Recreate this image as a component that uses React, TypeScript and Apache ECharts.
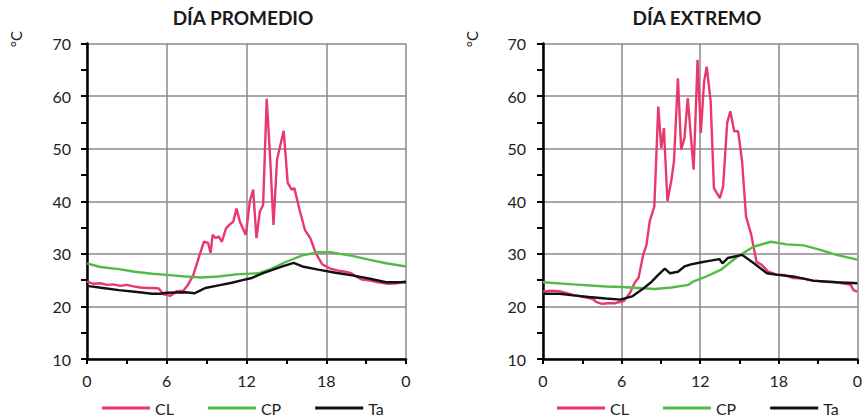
import React, { useEffect, useRef } from "react";
import * as echarts from "echarts";

const titles = ["DÍA PROMEDIO", "DÍA EXTREMO"];
const seriesNames = ["CL", "CP", "Ta"];
const xTicks = [0, 6, 12, 18, 24];

// [hour, °C]
const promCL = [
  [0, 24.7], [0.5, 24.3], [1, 24.4], [1.5, 24.1], [2, 24.2], [2.5, 23.9], [3, 24.1], [3.5, 23.8],
  [4, 23.6], [4.5, 23.5], [5, 23.5], [5.4, 23.4], [5.75, 22.3], [6, 22.2], [6.25, 22.0], [6.5, 22.4],
  [6.75, 22.9], [7.25, 23.0], [7.6, 24.1], [8, 26], [8.5, 30], [8.8, 32.3], [9.1, 32.1], [9.3, 30.2],
  [9.45, 33.6], [9.7, 33], [9.9, 33.3], [10.15, 32.3], [10.45, 34.8], [10.7, 35.5], [11.0, 36.1],
  [11.25, 38.6], [11.5, 36.1], [11.95, 33.6], [12.25, 40], [12.5, 42.2], [12.75, 33], [13.0, 38],
  [13.25, 39.3], [13.52, 59.5], [13.77, 48.6], [14.03, 35.5], [14.3, 48], [14.8, 53.4], [15.1, 43.5],
  [15.4, 42.2], [15.6, 42.5], [16.0, 38.3], [16.4, 34.5], [16.8, 33], [17.2, 30.2], [17.7, 28],
  [18.3, 27.2], [18.9, 26.8], [19.4, 26.6], [19.9, 26.3], [20.3, 25.6], [20.7, 25.1], [21.3, 24.9],
  [21.9, 24.6], [22.7, 24.3], [23.3, 24.4], [24, 24.8],
];
const promCP = [
  [0, 28.2], [1, 27.5], [2.4, 27.1], [3.6, 26.6], [4.9, 26.2], [6, 26], [7.4, 25.7], [8.6, 25.5],
  [9.9, 25.7], [11.2, 26.1], [12.9, 26.3], [13.9, 27.2], [14.9, 28.4], [16.2, 29.7], [17.4, 30.3],
  [18.3, 30.3], [19.95, 29.6], [21.2, 28.9], [22.5, 28.2], [24, 27.6],
];
const promTa = [
  [0, 23.9], [1.2, 23.5], [2.4, 23.1], [3.6, 22.8], [4.9, 22.4], [5.5, 22.4], [6, 22.6], [7.4, 22.7],
  [8.1, 22.5], [8.5, 23], [8.9, 23.5], [9.9, 24], [10.9, 24.5], [11.7, 25], [12.4, 25.4], [13.2, 26.3],
  [13.9, 26.9], [14.7, 27.6], [15.55, 28.3], [16.2, 27.6], [17.4, 27], [18.7, 26.4], [19.95, 25.9],
  [21.2, 25.3], [22.5, 24.6], [24, 24.6],
];

const extCL = [
  [0, 22.8], [0.6, 23], [1.25, 22.9], [2.3, 22.2], [3.5, 21.6], [3.8, 21.4], [4.1, 20.8], [4.5, 20.5],
  [5, 20.6], [5.5, 20.6], [5.8, 20.8], [6.15, 21], [6.4, 21.8], [6.65, 22.6], [7.0, 24.5], [7.3, 25.5],
  [7.65, 29.8], [7.9, 31.7], [8.15, 36.2], [8.5, 39], [8.8, 58], [9.03, 50.1], [9.23, 53.9], [9.5, 40],
  [9.8, 44], [10.0, 47.6], [10.3, 63.4], [10.55, 49.8], [10.8, 52], [11.05, 59.6], [11.5, 46],
  [11.8, 66.9], [12.05, 53], [12.3, 62.8], [12.5, 65.6], [12.8, 59], [13.05, 42.5], [13.5, 40.6],
  [13.75, 42.8], [14.06, 54.9], [14.3, 57.1], [14.6, 53.3], [14.9, 53.3], [15.2, 47.6], [15.5, 37.1],
  [15.9, 33.6], [16.3, 28.5], [16.7, 27.9], [17.2, 26.6], [17.8, 26.1], [18.4, 26], [19.1, 25.4],
  [19.9, 25.3], [20.6, 24.9], [21.5, 24.7], [22.4, 24.6], [23.5, 24.1], [23.7, 23.1], [24, 22.8],
];
const extCP = [
  [0, 24.6], [2.3, 24.2], [4.8, 23.8], [6, 23.7], [7.3, 23.5], [8.55, 23.3], [9.8, 23.6], [11.1, 24.1],
  [11.45, 24.7], [12.3, 25.5], [13.6, 27], [14.85, 29.5], [16.1, 31.4], [17.4, 32.3], [18.6, 31.8],
  [19.9, 31.6], [21.1, 30.8], [22.4, 29.8], [24, 28.9],
];
const extTa = [
  [0, 22.4], [1.25, 22.4], [2.3, 22.1], [3.5, 21.8], [4.8, 21.5], [5.9, 21.3], [6.8, 21.9], [7.55, 23.2],
  [8.3, 24.7], [8.8, 26], [9.3, 27.2], [9.7, 26.3], [10.3, 26.6], [10.8, 27.6], [11.3, 28], [12.1, 28.4],
  [12.8, 28.7], [13.46, 29], [13.7, 28.2], [14.1, 29.2], [15.2, 29.8], [16.1, 28.2], [17.1, 26.3],
  [17.9, 26], [19.1, 25.7], [20.6, 24.9], [22.4, 24.6], [24, 24.4],
];

const colors = ["#E8386D", "#55B94A", "#111111"];
const FONT = "Lato, 'Open Sans', sans-serif";

export default function App() {
  const ref = useRef<HTMLDivElement>(null);
  useEffect(() => {
    if (!ref.current) return;
    const chart = echarts.init(ref.current, null, { renderer: "svg" });
    const grids = [
      { left: 87, right: 459, top: 43.5, bottom: 60 },
      { left: 543, right: 4, top: 43.5, bottom: 60 },
    ];
    const mkX = (i: number) => ({
      type: "value",
      gridIndex: i,
      min: xTicks[0],
      max: xTicks[xTicks.length - 1],
      interval: 6,
      axisLine: { show: true, onZero: false, lineStyle: { color: "#000", width: 2.5 } },
      axisTick: { show: true, length: 5, lineStyle: { color: "#000", width: 2 } },
      minorTick: { show: true, splitNumber: 2, length: 5, lineStyle: { color: "#000", width: 2 } },
      splitLine: { show: true, lineStyle: { color: "#8a8a8a", width: 1.5 } },
      axisLabel: {
        margin: 13,
        fontSize: 16,
        color: "#222",
        fontFamily: FONT,
        formatter: (v: number) => (v === 24 ? "0" : String(v)),
      },
    });
    const mkY = (i: number) => ({
      type: "value",
      gridIndex: i,
      min: 10,
      max: 70,
      interval: 10,
      axisLine: { show: true, onZero: false, lineStyle: { color: "#000", width: 2.5 } },
      axisTick: { show: true, length: 6, lineStyle: { color: "#000", width: 2 } },
      minorTick: { show: true, splitNumber: 2, length: 6, lineStyle: { color: "#000", width: 2 } },
      splitLine: { show: true, lineStyle: { color: "#8a8a8a", width: 1.5 } },
      axisLabel: { margin: i === 0 ? 16 : 17, fontSize: 16, color: "#222", fontFamily: FONT },
    });
    const mkSeries = (name: string, data: number[][], gi: number, ci: number) => ({
      name,
      type: "line",
      xAxisIndex: gi,
      yAxisIndex: gi,
      data,
      showSymbol: false,
      symbol: "none",
      z: ci === 0 ? 2 : ci === 1 ? 3 : 4,
      lineStyle: { color: colors[ci], width: 2.4 },
      itemStyle: { color: colors[ci] },
    });
    const mkLegend = (x: number) => ({
      data: seriesNames,
      left: x,
      top: 395,
      icon: "rect",
      itemWidth: 48,
      itemHeight: 3,
      itemGap: 34,
      textStyle: { fontSize: 16, color: "#222", fontFamily: FONT },
      selectedMode: false,
    });
    const titleText = (t: string, x: number) => ({
      type: "text",
      x,
      y: 8,
      style: {
        text: t,
        font: `bold 19px ${FONT}`,
        fill: "#1a1a1a",
        textAlign: "center",
        textVerticalAlign: "top",
      },
    });
    const unitText = (x: number) => ({
      type: "text",
      x,
      y: 39,
      rotation: Math.PI / 2,
      style: {
        text: "°C",
        font: `15px ${FONT}`,
        fill: "#222",
        textAlign: "center",
        textVerticalAlign: "middle",
      },
    });
    chart.setOption({
      animation: false,
      backgroundColor: "#fff",
      grid: grids,
      xAxis: [mkX(0), mkX(1)],
      yAxis: [mkY(0), mkY(1)],
      legend: [mkLegend(97), mkLegend(552)],
      series: [
        mkSeries(seriesNames[0], promCL, 0, 0),
        mkSeries(seriesNames[1], promCP, 0, 1),
        mkSeries(seriesNames[2], promTa, 0, 2),
        mkSeries(seriesNames[0], extCL, 1, 0),
        mkSeries(seriesNames[1], extCP, 1, 1),
        mkSeries(seriesNames[2], extTa, 1, 2),
      ],
      graphic: [titleText(titles[0], 243), titleText(titles[1], 697), unitText(16), unitText(472)],
    });
    return () => chart.dispose();
  }, []);
  return <div ref={ref} style={{ width: 865, height: 419, position: "absolute", left: 0, top: 0 }} />;
}
